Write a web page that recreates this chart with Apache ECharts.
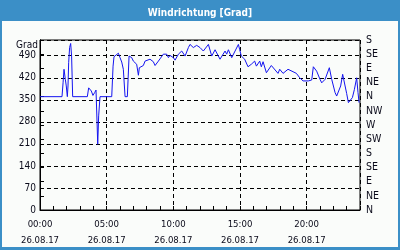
<!DOCTYPE html>
<html><head><meta charset="utf-8">
<script src="https://cdn.jsdelivr.net/npm/echarts@6/dist/echarts.min.js"></script>
<style>html,body{margin:0;padding:0;background:#fafcfa}#c{width:400px;height:250px}</style>
</head><body><div id="c"></div>
<script>
var titleText = 'Windrichtung [Grad]';
var yName = 'Grad';
var dateLabel = '26.08.17';
var compassLabels = ['N','NE','E','SE','S','SW','W','NW','N','NE','E','SE','S'];
var hours = [0,1.65,1.73,1.80,1.90,1.97,2.05,2.10,2.15,2.22,2.30,2.37,2.45,3.55,3.65,3.75,3.85,3.97,4.10,4.20,4.28,4.33,4.40,4.50,
5.38,5.48,5.55,5.70,5.88,6.00,6.13,6.25,6.38,6.55,6.68,6.88,7.00,7.25,7.38,7.45,7.75,7.88,8.00,8.25,8.50,8.63,8.88,9.00,9.13,9.25,9.50,9.63,9.75,
10.00,10.13,10.38,10.63,10.88,11.13,11.25,11.50,11.75,12.00,12.25,12.63,12.88,13.13,13.50,13.88,14.00,14.13,14.38,14.63,14.88,
14.98,15.10,15.35,15.60,15.73,15.85,15.95,16.10,16.23,16.48,16.60,16.73,16.98,17.35,17.85,17.98,18.23,18.60,18.73,19.23,19.48,19.73,
19.88,20.13,20.38,20.50,20.75,21.00,21.13,21.38,21.70,21.88,22.13,22.25,22.38,22.55,22.70,22.83,23.00,23.13,23.25,23.43,23.58,23.75,23.85,23.93];
var direction = [360,360,404,447,415,394,360,394,468,516,529,489,360,360,388,394,378,364,373,381,277,209,299,360,
360,457,487,490,498,484,470,447,360,360,489,484,473,463,428,452,459,473,479,479,471,459,473,480,476,495,495,484,491,
484,476,495,505,489,516,526,516,523,516,505,526,489,509,479,505,495,509,484,505,526,
509,489,479,455,452,463,459,473,457,473,455,471,436,459,434,447,434,447,447,434,420,410,
410,410,413,455,441,415,404,415,452,415,373,362,364,394,431,431,370,341,343,357,383,420,373,341];

var FONT = 'DejaVu Sans Condensed';
var labelColor = '#0a0a1a';
function pad(n){return (n<10?'0':'')+n;}
var chart = echarts.init(document.getElementById('c'), null, {renderer:'canvas'});
chart.setOption({
  animation:false,
  backgroundColor:'#fafcfa',
  title:{text:titleText,left:'center',top:3,textStyle:{color:'#fff',fontFamily:FONT,fontSize:10,fontWeight:'bold'}},
  graphic:[
    {type:'rect',z:-1,shape:{x:0,y:0,width:400,height:21},style:{fill:'#3b8fc7'}},
    {type:'rect',z:-1,shape:{x:0,y:0,width:2,height:250},style:{fill:'#3b8fc7'}},
    {type:'rect',z:-1,shape:{x:398,y:0,width:2,height:250},style:{fill:'#3b8fc7'}},
    {type:'rect',z:-1,shape:{x:0,y:247,width:400,height:3},style:{fill:'#3b8fc7'}},
    {type:'text',left:16,top:40,style:{text:yName,fill:labelColor,font:'10px "DejaVu Sans Condensed"'}}
  ],
  grid:{left:40,right:40,top:40,bottom:40,show:true,borderColor:'#000',borderWidth:1,backgroundColor:'transparent'},
  xAxis:[{
    type:'value',min:0,max:24,interval:1,
    axisLine:{show:true,onZero:false,lineStyle:{color:'#000',width:1}},
    axisTick:{show:true,inside:true,length:4,lineStyle:{color:'#000'}},
    splitLine:{show:false},
    axisLabel:{margin:7,color:labelColor,fontFamily:FONT,fontSize:9.5,lineHeight:16,
      formatter:function(v){return (v%5===0 && v<24)? pad(v)+':00\n'+dateLabel : '';}}
  },{
    type:'value',min:0,max:24,interval:5,position:'bottom',
    axisLine:{show:false},axisTick:{show:false},axisLabel:{show:false},
    splitLine:{show:true,lineStyle:{color:'#000',type:[4,3],width:1}}
  }],
  yAxis:[{
    type:'value',min:0,max:540,interval:70,position:'left',
    axisLine:{show:true,lineStyle:{color:'#000'}},
    axisTick:{show:false},
    splitLine:{show:true,lineStyle:{color:'#000',type:[4,3],width:1}},
    axisLabel:{margin:4,color:labelColor,fontFamily:FONT,fontSize:10,
      formatter:function(v){return v%70===0? String(v) : '';}}
  },{
    type:'value',min:0,max:540,interval:45,position:'right',
    axisLine:{show:true,lineStyle:{color:'#000'}},
    axisTick:{show:true,length:4,lineStyle:{color:'#000'}},
    splitLine:{show:false},
    axisLabel:{margin:6,color:labelColor,fontFamily:FONT,fontSize:10.5,
      formatter:function(v){return compassLabels[Math.round(v/45)]||'';}}
  }],
  series:[{
    type:'line',xAxisIndex:0,yAxisIndex:0,showSymbol:false,
    lineStyle:{color:'#1414f0',width:1},
    data:hours.map(function(h,i){return [h,direction[i]];})
  }]
});
</script></body></html>
